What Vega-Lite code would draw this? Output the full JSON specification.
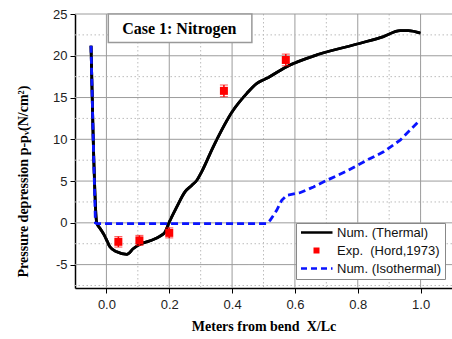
{
  "$schema": "https://vega.github.io/schema/vega-lite/v6.json",
  "width": 377,
  "height": 274,
  "autosize": "none",
  "padding": {"left": 75, "top": 14, "right": 0, "bottom": 51},
  "background": "white",
  "config": {
    "view": {"stroke": null},
    "font": "Liberation Sans"
  },
  "datasets": {
    "thermal": [
      {"x": -0.049, "y": 21.2}, {"x": -0.042, "y": 10}, {"x": -0.031, "y": 0},
      {"x": -0.02, "y": -0.67}, {"x": -0.004, "y": -1.67}, {"x": 0.011, "y": -2.87},
      {"x": 0.033, "y": -3.47}, {"x": 0.065, "y": -3.78}, {"x": 0.086, "y": -3.07},
      {"x": 0.107, "y": -2.55}, {"x": 0.139, "y": -2.15}, {"x": 0.171, "y": -1.59},
      {"x": 0.187, "y": -1.08}, {"x": 0.199, "y": 0}, {"x": 0.224, "y": 1.91},
      {"x": 0.25, "y": 3.71}, {"x": 0.272, "y": 4.5}, {"x": 0.288, "y": 5.1},
      {"x": 0.303, "y": 6.1}, {"x": 0.34, "y": 9.1}, {"x": 0.404, "y": 13.5},
      {"x": 0.447, "y": 15.5}, {"x": 0.479, "y": 16.7}, {"x": 0.51, "y": 17.3},
      {"x": 0.574, "y": 18.7}, {"x": 0.67, "y": 20.1}, {"x": 0.808, "y": 21.5},
      {"x": 0.882, "y": 22.3}, {"x": 0.935, "y": 23.0}, {"x": 0.961, "y": 23.0},
      {"x": 1.0, "y": 22.7}
    ],
    "iso": [
      {"x": -0.049, "y": 21.2}, {"x": -0.042, "y": 10}, {"x": -0.035, "y": 0},
      {"x": -0.03, "y": -0.1}, {"x": 0.51, "y": -0.1}, {"x": 0.521, "y": 0.3},
      {"x": 0.542, "y": 1.5}, {"x": 0.558, "y": 2.7}, {"x": 0.574, "y": 3.3},
      {"x": 0.616, "y": 3.6}, {"x": 0.659, "y": 4.3}, {"x": 0.702, "y": 5.1},
      {"x": 0.765, "y": 6.2}, {"x": 0.829, "y": 7.5}, {"x": 0.882, "y": 8.5},
      {"x": 0.935, "y": 9.9}, {"x": 0.993, "y": 12.1}
    ],
    "exp": [
      {"x": 0.038, "y": -2.27, "lo": -2.9, "hi": -1.65},
      {"x": 0.105, "y": -2.1, "lo": -2.7, "hi": -1.5},
      {"x": 0.2, "y": -1.2, "lo": -1.8, "hi": -0.6},
      {"x": 0.374, "y": 15.8, "lo": 15.1, "hi": 16.5},
      {"x": 0.571, "y": 19.5, "lo": 18.8, "hi": 20.2}
    ],
    "gridx": [{"v": 0.1, "k": "minor"}, {"v": 0.2, "k": "major"}, {"v": 0.3, "k": "minor"}, {"v": 0.4, "k": "major"}, {"v": 0.5, "k": "minor"}, {"v": 0.6, "k": "major"}, {"v": 0.7, "k": "minor"}, {"v": 0.8, "k": "major"}, {"v": 0.9, "k": "minor"}, {"v": 1.0, "k": "major"}, {"v": 0.0, "k": "major"}],
    "gridy": [{"v": -7.5, "k": "minor"}, {"v": -5, "k": "major"}, {"v": -2.5, "k": "minor"}, {"v": 0, "k": "major"}, {"v": 2.5, "k": "minor"}, {"v": 5, "k": "major"}, {"v": 7.5, "k": "minor"}, {"v": 10, "k": "major"}, {"v": 12.5, "k": "minor"}, {"v": 15, "k": "major"}, {"v": 17.5, "k": "minor"}, {"v": 20, "k": "major"}, {"v": 22.5, "k": "minor"}, {"v": 25, "k": "major"}]
  },
  "layer": [
    {
      "data": {"name": "thermal"},
      "mark": {"type": "line", "strokeWidth": 2.8, "strokeJoin": "round", "interpolate": "monotone"},
      "encoding": {
        "x": {
          "field": "x", "type": "quantitative",
          "scale": {"domain": [-0.1, 1.1], "nice": false, "zero": false},
          "axis": {
            "title": "Meters from bend\u00a0 X/Lc",
            "titleFont": "Liberation Serif", "titleFontWeight": "bold", "titleFontSize": 14, "titleColor": "black", "titlePadding": 8,
            "values": [0, 0.2, 0.4, 0.6, 0.8, 1.0],
            "format": ".1f",
            "labelFontSize": 13, "labelColor": "#222222", "labelPadding": 5, "labelFlush": false,
            "domainColor": "black", "domainWidth": 1.5,
            "tickColor": "black", "tickWidth": 1, "tickSize": 5,
            "grid": false
          }
        },
        "y": {
          "field": "y", "type": "quantitative",
          "scale": {"domain": [-7.8, 25], "nice": false, "zero": false},
          "axis": {
            "title": "Pressure depression p-pᵥ(N/cm²)",
            "titleFont": "Liberation Serif", "titleFontWeight": "bold", "titleFontSize": 14, "titleColor": "black",
            "titleX": -45, "titleY": 167, "titleBaseline": "bottom", "titleAngle": -90, "titleAlign": "center",
            "values": [-5, 0, 5, 10, 15, 20, 25],
            "labelExpr": "''+datum.value",
            "labelFontSize": 13, "labelColor": "#222222", "labelPadding": 3, "labelFlush": false,
            "domainColor": "black", "domainWidth": 1.5,
            "tickColor": "black", "tickWidth": 1, "tickSize": 5,
            "grid": false
          }
        },
        "color": {
          "datum": "Num. (Thermal)",
          "scale": {
            "domain": ["Num. (Thermal)", "Exp.\u00a0 (Hord,1973)", "Num. (Isothermal)"],
            "range": ["#000000", "#ff0000", "#0a14ff"]
          },
          "legend": {
            "title": null,
            "orient": "none", "legendX": 221, "legendY": 209,
            "fillColor": "white", "strokeColor": "#888888", "padding": 3,
            "labelFont": "Liberation Sans", "labelFontSize": 13, "labelColor": "#111111",
            "symbolSize": 100, "labelOffset": 25, "rowPadding": 4,
            "encode": {
              "symbols": {
                "update": {
                  "shape": {"signal": "datum.index==1 ? 'M1.6,-0.6H2.8V0.6H1.6Z' : 'M-0.9,0H5.4'"},
                  "strokeDash": {"signal": "datum.index==2 ? [6,4] : [1,0]"},
                  "strokeWidth": {"signal": "datum.index==1 ? 0 : 2.5"},
                  "fill": {"signal": "datum.index==1 ? '#ff0000' : 'transparent'"},
                  "stroke": {"signal": "datum.index==2 ? '#0a14ff' : (datum.index==1 ? '#ff0000' : '#000000')"},
                  "opacity": {"value": 1}
                }
              }
            }
          }
        }
      }
    },
    {
      "data": {"name": "gridx"},
      "mark": {"type": "rule", "strokeWidth": 1, "opacity": 1},
      "encoding": {
        "x": {"field": "v", "type": "quantitative"},
        "stroke": {"field": "k", "type": "nominal", "scale": {"domain": ["major", "minor"], "range": ["#9c9c9c", "#bcbcbc"]}, "legend": null},
        "strokeDash": {"field": "k", "type": "nominal", "scale": {"domain": ["major", "minor"], "range": [[1, 0], [1.5, 2.5]]}, "legend": null}
      }
    },
    {
      "data": {"name": "gridy"},
      "mark": {"type": "rule", "strokeWidth": 1, "opacity": 1},
      "encoding": {
        "y": {"field": "v", "type": "quantitative"},
        "stroke": {"field": "k", "type": "nominal", "legend": null},
        "strokeDash": {"field": "k", "type": "nominal", "legend": null}
      }
    },
    {
      "data": {"values": [{}]},
      "mark": {"type": "rect", "fill": "white", "stroke": "#999999", "strokeWidth": 1.5},
      "encoding": {
        "x": {"datum": 0.006, "type": "quantitative"},
        "x2": {"datum": 0.463},
        "y": {"datum": 25, "type": "quantitative"},
        "y2": {"datum": 21.58}
      }
    },
    {
      "data": {"values": [{"label": "Case 1: Nitrogen"}]},
      "mark": {"type": "text", "font": "Liberation Serif", "fontWeight": "bold", "fontSize": 16, "color": "black", "align": "center", "baseline": "middle"},
      "encoding": {
        "x": {"datum": 0.232, "type": "quantitative"},
        "y": {"datum": 23.25, "type": "quantitative"},
        "text": {"field": "label"}
      }
    },
    {
      "data": {"name": "thermal"},
      "mark": {"type": "line", "strokeWidth": 2.8, "strokeJoin": "round", "interpolate": "monotone", "color": "#000000"},
      "encoding": {
        "x": {"field": "x", "type": "quantitative"},
        "y": {"field": "y", "type": "quantitative"}
      }
    },
    {
      "data": {"name": "iso"},
      "mark": {"type": "line", "strokeWidth": 2.8, "strokeDash": [7, 4]},
      "encoding": {
        "x": {"field": "x", "type": "quantitative"},
        "y": {"field": "y", "type": "quantitative"},
        "color": {"datum": "Num. (Isothermal)"}
      }
    },
    {
      "data": {"name": "exp"},
      "mark": {"type": "errorbar", "ticks": {"size": 8}, "rule": {"strokeWidth": 1.5}, "color": "#ff0000"},
      "encoding": {
        "x": {"field": "x", "type": "quantitative"},
        "y": {"field": "lo", "type": "quantitative", "title": "Pressure depression p-pᵥ(N/cm²)"},
        "y2": {"field": "hi"}
      }
    },
    {
      "data": {"name": "exp"},
      "mark": {"type": "point", "shape": "square", "filled": true, "size": 64, "opacity": 1},
      "encoding": {
        "x": {"field": "x", "type": "quantitative"},
        "y": {"field": "y", "type": "quantitative"},
        "color": {"datum": "Exp.\u00a0 (Hord,1973)"}
      }
    }
  ]
}
